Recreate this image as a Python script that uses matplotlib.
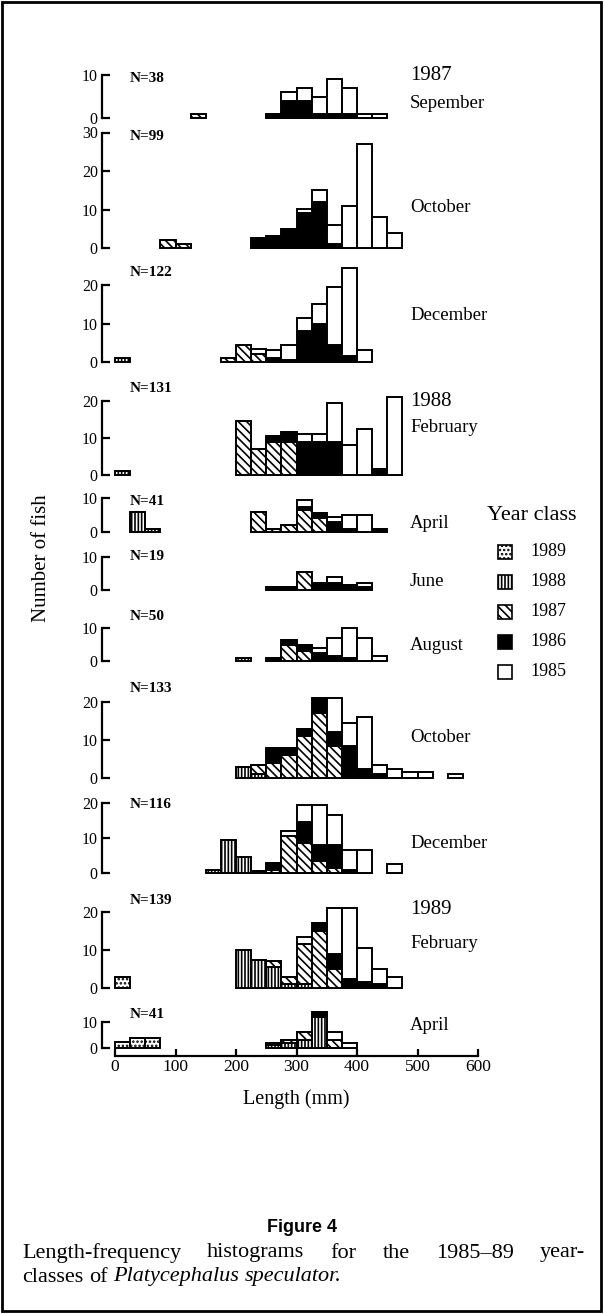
import matplotlib.pyplot as plt
from matplotlib.patches import Rectangle

# DATA (counts per 25 mm length class)
# ============================================================================
BIN = 25
classes = ['1989', '1988', '1987', '1986', '1985']

sep87_bins = [125, 250, 275, 300, 325, 350, 375, 400, 425]
sep87 = {'1987': [1, 0, 0, 0, 0, 0, 0, 0, 0],
         '1986': [0, 1, 4, 4, 1, 1, 1, 0, 0],
         '1985': [0, 0, 2, 3, 4, 8, 6, 1, 1]}

oct87_bins = [75, 100, 225, 250, 275, 300, 325, 350, 375, 400, 425, 450]
oct87 = {'1987': [2, 1, 0, 0, 0, 0, 0, 0, 0, 0, 0, 0],
         '1986': [0, 0, 2.5, 3, 5, 9, 12, 1, 0, 0, 0, 0],
         '1985': [0, 0, 0, 0, 0, 1, 3, 5, 11, 27, 8, 4]}

dec87_bins = [0, 175, 200, 225, 250, 275, 300, 325, 350, 375, 400]
dec87 = {'1988': [1, 0, 0, 0, 0, 0, 0, 0, 0, 0, 0],
         '1987': [0, 1, 4.5, 2, 0, 0, 0, 0, 0, 0, 0],
         '1986': [0, 0, 0, 0, 1, 0.5, 8, 10, 4.5, 1.5, 0],
         '1985': [0, 0, 0, 1.5, 2, 4, 3.5, 5, 15, 23, 3]}

feb88_bins = [0, 200, 225, 250, 275, 300, 325, 350, 375, 400, 425, 450]
feb88 = {'1988': [1, 0, 0, 0, 0, 0, 0, 0, 0, 0, 0, 0],
         '1987': [0, 14.5, 7, 9, 9, 0, 0, 0, 0, 0, 0, 0],
         '1986': [0, 0, 0, 1.5, 2.5, 9, 9, 9, 0, 0, 1, 0],
         '1985': [0, 0, 0, 0, 0, 2, 2, 10.5, 8, 12.5, 0.5, 21]}

apr88_bins = [25, 50, 225, 250, 275, 300, 325, 350, 375, 400, 425]
apr88 = {'1988': [6, 1, 0, 0, 0, 0, 0, 0, 0, 0, 0],
         '1987': [0, 0, 6, 1, 2, 6.5, 4, 0, 0, 0, 0],
         '1986': [0, 0, 0, 0, 0, 1, 1.5, 3, 1, 0, 1],
         '1985': [0, 0, 0, 0, 0, 2, 0, 1.5, 4, 5, 0]}

jun88_bins = [250, 275, 300, 325, 350, 375, 400]
jun88 = {'1987': [0, 0, 5.5, 0, 0, 0, 0],
         '1986': [1, 1, 0, 2, 2, 1.5, 1],
         '1985': [0, 0, 0, 0, 2, 0, 1]}

aug88_bins = [200, 250, 275, 300, 325, 350, 375, 400, 425]
aug88 = {'1988': [1, 0, 0, 0, 0, 0, 0, 0, 0],
         '1987': [0, 0, 5, 3, 0, 0, 0, 0, 0],
         '1986': [0, 1, 1.5, 2, 2.5, 1.5, 1, 0, 0],
         '1985': [0, 0, 0, 0, 1.5, 5.5, 9, 7, 1.5]}

oct88_bins = [200, 225, 250, 275, 300, 325, 350, 375, 400, 425, 450, 475, 500, 550]
oct88 = {'1988': [3, 1, 0, 0, 0, 0, 0, 0, 0, 0, 0, 0, 0, 0],
         '1987': [0, 2.5, 4, 6, 11, 17, 8.5, 0, 0, 0, 0, 0, 0, 0],
         '1986': [0, 0, 4, 2, 2, 4, 3.5, 8.5, 2.5, 1, 0, 0, 0, 0],
         '1985': [0, 0, 0, 0, 0, 0, 9, 6, 13.5, 2.5, 2.5, 1.5, 1.5, 1]}

dec88_bins = [150, 175, 200, 225, 250, 275, 300, 325, 350, 375, 400, 450]
dec88 = {'1988': [1, 9.5, 4.5, 0.5, 0, 0, 0, 0, 0, 0, 0, 0],
         '1987': [0, 0, 0, 0, 1, 10.5, 8.5, 3.5, 1.5, 0, 0, 0],
         '1986': [0, 0, 0, 0, 2, 0, 6, 4.5, 6.5, 1, 0, 0],
         '1985': [0, 0, 0, 0, 0, 1.5, 5, 11.5, 8.5, 5.5, 6.5, 2.5]}

feb89_bins = [0, 200, 225, 250, 275, 300, 325, 350, 375, 400, 425, 450]
feb89 = {'1989': [3, 0, 0, 0, 0, 0, 0, 0, 0, 0, 0, 0],
         '1988': [0, 10, 7.5, 5.5, 1, 1, 0, 0, 0, 0, 0, 0],
         '1987': [0, 0, 0, 1.5, 2, 10.5, 15, 5, 0, 0, 0, 0],
         '1986': [0, 0, 0, 0, 0, 0, 2, 4, 2.5, 1.5, 1, 0],
         '1985': [0, 0, 0, 0, 0, 2, 0, 12, 18.5, 9, 4, 3]}

apr89_bins = [0, 25, 50, 250, 275, 300, 325, 350, 375]
apr89 = {'1989': [2.5, 4, 4, 0, 0, 0, 0, 0, 0],
         '1988': [0, 0, 0, 1, 2, 3, 12, 0, 0],
         '1987': [0, 0, 0, 1, 1, 3, 0, 3, 0],
         '1986': [0, 0, 0, 0, 0, 0, 2, 0, 0],
         '1985': [0, 0, 0, 0, 0, 0, 0, 3, 2]}

# LAYOUT: base y (px), px per fish, ticks, y of N label, side labels
# ============================================================================
panels = [
    (sep87_bins, sep87, 'N=38', 118, 4.3, [0, 10], 79, [('1987', 76, 15), ('Sepember', 103, 13.5)]),
    (oct87_bins, oct87, 'N=99', 248, 3.85, [0, 10, 20, 30], 136, [('October', 208, 13.5)]),
    (dec87_bins, dec87, 'N=122', 362, 3.85, [0, 10, 20], 272, [('December', 315, 13.5)]),
    (feb88_bins, feb88, 'N=131', 475, 3.7, [0, 10, 20], 388, [('1988', 402, 15), ('February', 428, 13.5)]),
    (apr88_bins, apr88, 'N=41', 532, 3.4, [0, 10], 502, [('April', 523, 13.5)]),
    (jun88_bins, jun88, 'N=19', 590, 3.3, [0, 10], 557, [('June', 582, 13.5)]),
    (aug88_bins, aug88, 'N=50', 661, 3.3, [0, 10], 617, [('August', 645, 13.5)]),
    (oct88_bins, oct88, 'N=133', 778, 3.8, [0, 10, 20], 688, [('October', 738, 13.5)]),
    (dec88_bins, dec88, 'N=116', 873, 3.5, [0, 10, 20], 805, [('December', 843, 13.5)]),
    (feb89_bins, feb89, 'N=139', 988, 3.8, [0, 10, 20], 900, [('1989', 910, 15), ('February', 943, 13.5)]),
    (apr89_bins, apr89, 'N=41', 1048, 2.6, [0, 10], 1015, [('April', 1025, 13.5)]),
]

W, H = 604, 1314
L, R = 102, 490          # left spine / right edge of panels (px)
X0, PXMM = 115, 0.605    # px of 0 mm, px per mm

styles = {
    '1989': dict(facecolor='white', hatch='....'),
    '1988': dict(facecolor='white', hatch='|||||'),
    '1987': dict(facecolor='white', hatch='\\\\\\\\'),
    '1986': dict(facecolor='black'),
    '1985': dict(facecolor='white'),
}

plt.rcParams['font.family'] = ['Liberation Serif', 'DejaVu Serif']
plt.rcParams['hatch.linewidth'] = 1.2

fig = plt.figure(figsize=(W / 100, H / 100), dpi=100)


def fx(px):
    return px / W


def fy(py):
    return 1 - py / H


def mm(px):
    return (px - X0) / PXMM


for i, (bins, data, nlab, base, ppu, ticks, ny, labels) in enumerate(panels):
    totals = [sum(data[c][k] for c in data) for k in range(len(bins))]
    ymax = max(ticks[-1], max(totals)) + 0.5
    ax = fig.add_axes([fx(L), fy(base), fx(R - L), ymax * ppu / H])
    ax.set_xlim(mm(L), mm(R))
    ax.set_ylim(0, ymax)
    ax.patch.set_alpha(0)
    bottom = [0] * len(bins)
    for c in classes:
        if c not in data:
            continue
        vals = data[c]
        ax.bar(bins, vals, width=BIN, bottom=bottom, align='edge',
               edgecolor='black', linewidth=1.4, clip_on=False, **styles[c])
        bottom = [b + v for b, v in zip(bottom, vals)]
    for s in ['top', 'right']:
        ax.spines[s].set_visible(False)
    ax.spines['left'].set_linewidth(1.6)
    ax.spines['left'].set_bounds(0, ticks[-1])
    ax.set_yticks(ticks)
    ax.tick_params(axis='y', direction='in', length=6, width=1.6, pad=3, labelsize=11.5)
    if i < len(panels) - 1:
        ax.spines['bottom'].set_visible(False)
        ax.set_xticks([])
    else:
        ax.spines['bottom'].set_linewidth(1.6)
        ax.spines['bottom'].set_bounds(0, 600)
        ax.spines['bottom'].set_position(('outward', 6))
        ax.set_xticks(range(0, 601, 100))
        ax.tick_params(axis='x', direction='in', length=5, width=1.6, labelsize=12.5, pad=2)
        ax.set_xlabel('Length (mm)', fontsize=14.5, labelpad=10)
    fig.text(fx(130), fy(ny), nlab, fontsize=11, fontweight='bold', va='center')
    for txt, y, fs in labels:
        fig.text(fx(410), fy(y), txt, fontsize=fs, va='center')

fig.text(fx(42), fy(558), 'Number of fish', rotation=90, fontsize=15,
         va='center', ha='center')

# LEGEND
fig.text(fx(487), fy(515), 'Year class', fontsize=16, va='center')
for k, c in enumerate(classes):
    y = 552 + 30 * k
    fig.add_artist(Rectangle((fx(498), fy(y + 7)), 14 / W, 14 / H,
                             transform=fig.transFigure, edgecolor='black',
                             linewidth=1.2, **styles[c]))
    fig.text(fx(530), fy(y), c, fontsize=13, va='center')

# CAPTION
fig.text(0.5, fy(1228), 'Figure 4', fontsize=13, fontweight='bold',
         family='Liberation Sans', ha='center', va='center')

renderer = fig.canvas.get_renderer()


def put_words(words, y, x_left, x_right=None, fs=16):
    # place words one after another; justify when x_right is given
    arts = [fig.text(0, fy(y), w, fontsize=fs, va='center', style=st) for w, st in words]
    widths = [a.get_window_extent(renderer).width for a in arts]
    if x_right is None:
        gap = fs * 0.25 * 100 / 72
    else:
        gap = (x_right - x_left - sum(widths)) / (len(arts) - 1)
    x = x_left
    for a, wd in zip(arts, widths):
        a.set_x(fx(x))
        x += wd + gap


put_words([('Length-frequency', 'normal'), ('histograms', 'normal'), ('for', 'normal'),
           ('the', 'normal'), ('1985\u201389', 'normal'), ('year-', 'normal')],
          1253, 22, 585)
put_words([('classes', 'normal'), ('of', 'normal'), ('Platycephalus', 'italic'),
           ('speculator.', 'italic')], 1277, 22)

fig.add_artist(Rectangle((fx(2), fy(1311)), fx(599), 1309 / H, fill=False,
                         edgecolor='black', linewidth=2, transform=fig.transFigure))

fig.savefig('out.png', dpi=100)
